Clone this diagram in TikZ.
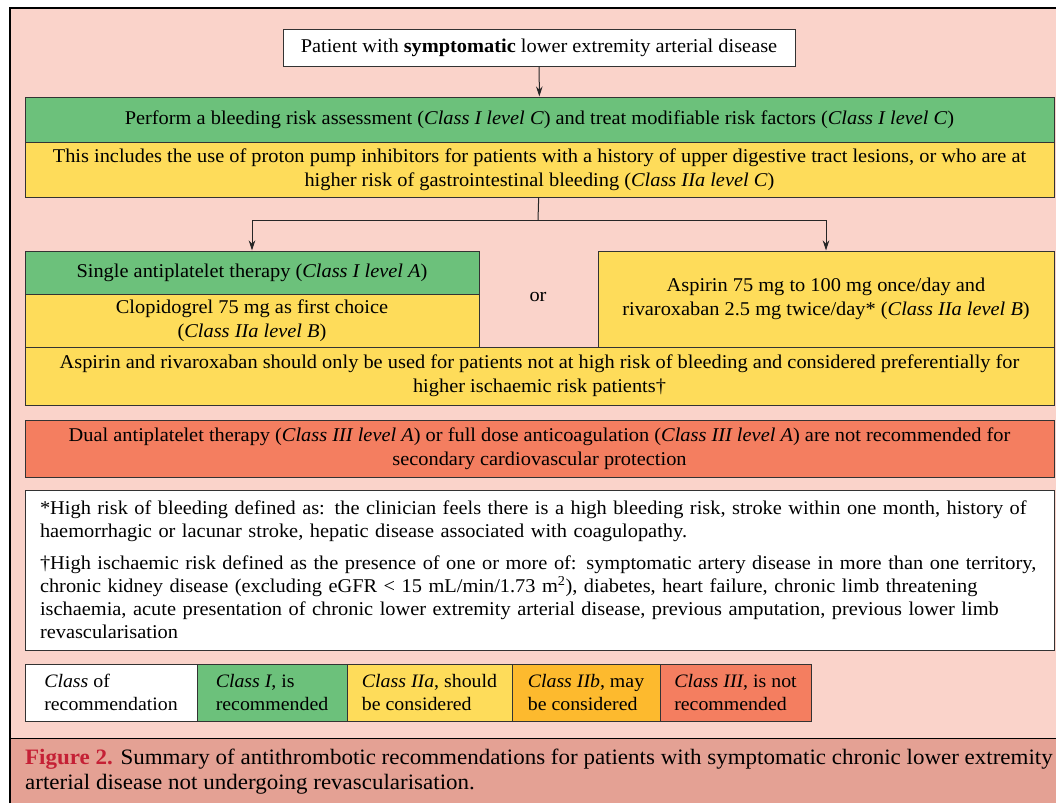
\documentclass[tikz,border=0pt]{standalone}
\usepackage{fontspec}
\setmainfont[FakeStretch=1.045]{Liberation Serif}
\usetikzlibrary{arrows.meta}

\definecolor{bgpink}{HTML}{FAD3CA}
\definecolor{cappink}{HTML}{E4A194}
\definecolor{clsone}{HTML}{6CC17B}
\definecolor{clstwoa}{HTML}{FEDC5A}
\definecolor{clstwob}{HTML}{FDBA2E}
\definecolor{clsthree}{HTML}{F47E60}
\definecolor{figred}{HTML}{C52035}

\begin{document}
\begin{tikzpicture}[x=1pt, y=-1pt,
    font=\fontsize{19.5}{24}\selectfont,
    box/.style={draw=black!80, line width=1pt, align=center, inner sep=0pt},
    recI/.style={box, fill=clsone},
    recIIa/.style={box, fill=clstwoa},
    recIII/.style={box, fill=clsthree},
    legcell/.style={box, align=left, minimum height=57pt, font=\fontsize{19}{23}\selectfont},
    arr/.style={-{Stealth[length=10pt,width=6.5pt]}, line width=1pt, draw=black!85}]
    \useasboundingbox (0,0) rectangle (1056,803);
    % background and frame
    \fill[bgpink] (10,8) rectangle (1056,738);
    \fill[cappink] (10,738) rectangle (1056,803);
    \draw[line width=1pt] (10,738) -- (1056,738);
    \draw[line width=2.5pt] (10,803) -- (10,8) -- (1056,8);

    % flow chart
    \node (patient) at (539,47.5) [box, fill=white, minimum width=512pt, minimum height=37pt]
      {Patient with \textbf{symptomatic} lower extremity arterial disease};
    \node (assess) at (539.5,119.5) [recI, minimum width=1029pt, minimum height=45pt]
      {Perform a bleeding risk assessment (\textit{Class I level C}) and treat modifiable risk factors (\textit{Class I level C})};
    \node (ppi) at (539.5,169.5) [recIIa, minimum width=1029pt, minimum height=55pt]
      {This includes the use of proton pump inhibitors for patients with a history of upper digestive tract lesions, or who are at\\
       higher risk of gastrointestinal bleeding (\textit{Class IIa level C})};
    \node (single) at (252,272.5) [recI, minimum width=454pt, minimum height=43pt]
      {Single antiplatelet therapy (\textit{Class I level A})};
    \node (clopi) at (252,320.5) [recIIa, minimum width=454pt, minimum height=53pt]
      {Clopidogrel 75 mg as first choice\\(\textit{Class IIa level B})};
    \node (or) at (538,297) {or};
    \node (dual) at (826,299) [recIIa, minimum width=456pt, minimum height=96pt]
      {Aspirin 75 mg to 100 mg once/day and\\
       rivaroxaban 2.5 mg twice/day* (\textit{Class IIa level B})};
    \node (rivaro) at (539.5,376) [recIIa, minimum width=1029pt, minimum height=58pt]
      {Aspirin and rivaroxaban should only be used for patients not at high risk of bleeding and considered preferentially for\\
       higher ischaemic risk patients\textdagger};
    \node (contra) at (539.5,448.5) [recIII, minimum width=1029pt, minimum height=57pt]
      {Dual antiplatelet therapy (\textit{Class III level A}) or full dose anticoagulation (\textit{Class III level A}) are not recommended for\\
       secondary cardiovascular protection};
    \node (notes) at (539.5,570) [box, fill=white, align=left, text width=999pt, inner xsep=15pt, minimum height=160pt,
      font=\fontsize{19.5}{23}\selectfont]
      {*High risk of bleeding defined as: the clinician feels there is a high bleeding risk, stroke within one month, history of\\
       haemorrhagic or lacunar stroke, hepatic disease associated with coagulopathy.\\[9pt]
       \textdagger High ischaemic risk defined as the presence of one or more of: symptomatic artery disease in more than one territory,\\
       chronic kidney disease (excluding eGFR < 15 mL/min/1.73 m\textsuperscript{2}), diabetes, heart failure, chronic limb threatening\\
       ischaemia, acute presentation of chronic lower extremity arterial disease, previous amputation, previous lower limb\\
       revascularisation};

    \draw[arr] (patient) -- (assess);
    \coordinate (split) at (538,220);
    \draw[line width=1pt, draw=black!85] (ppi) -- (split);
    \draw[arr] (split) -| (single);
    \draw[arr] (split) -| (dual);

    % legend
    \node (legclass) at (111,692.5) [legcell, fill=white, minimum width=172pt] {\textit{Class} of\\recommendation};
    \node (legI) at (272,692.5) [legcell, fill=clsone, minimum width=150pt] {\textit{Class I}, is\\recommended};
    \node (legIIa) at (429.5,692.5) [legcell, fill=clstwoa, minimum width=165pt] {\textit{Class IIa}, should\\be considered};
    \node (legIIb) at (586,692.5) [legcell, fill=clstwob, minimum width=148pt] {\textit{Class IIb}, may\\be considered};
    \node (legIII) at (735.5,692.5) [legcell, fill=clsthree, minimum width=151pt] {\textit{Class III}, is not\\recommended};

    % caption
    \node (caption) at (25,749) [anchor=north west, align=left, inner sep=0pt, font=\fontsize{22}{25}\selectfont]
      {\textcolor{figred}{\textbf{Figure 2.}} Summary of antithrombotic recommendations for patients with symptomatic chronic lower extremity\\
       arterial disease not undergoing revascularisation.};
\end{tikzpicture}
\end{document}
